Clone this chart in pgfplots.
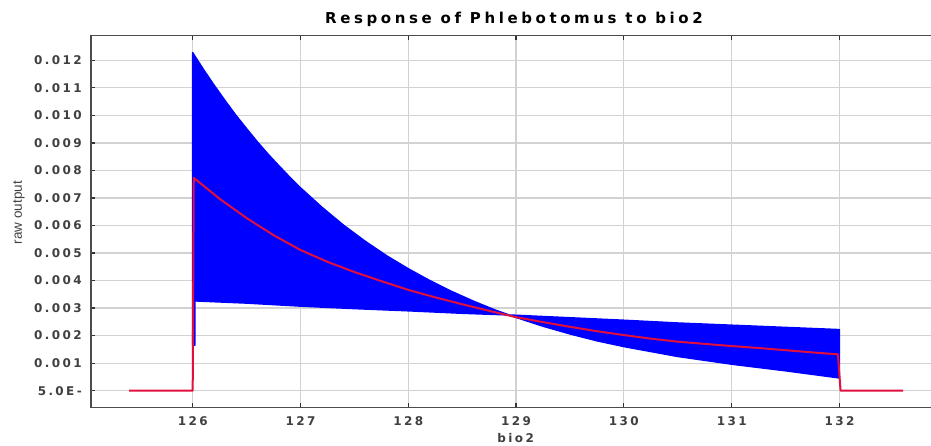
\documentclass[border=0pt]{standalone}
\usepackage{fontspec}
\setmainfont{DejaVu Sans}
\newfontfamily\tickfont[LetterSpace=20]{DejaVu Sans}
\newfontfamily\titlefont[LetterSpace=24]{DejaVu Sans}
\newfontfamily\labfont{Liberation Sans}
\usepackage{pgfplots}
\pgfplotsset{compat=1.18}

\definecolor{respred}{RGB}{225,15,60}
\definecolor{bandblue}{RGB}{0,0,255}
\definecolor{gridgray}{RGB}{210,210,210}

% mean response (red)
\pgfplotstableread{
x y
125.41 0
126.00 0
126.01 0.00773
126.25 0.00697
126.50 0.00627
126.75 0.00565
127.00 0.00511
127.25 0.00468
127.50 0.00431
127.75 0.00398
128.00 0.00366
128.25 0.00339
128.50 0.00314
128.75 0.00290
129.00 0.00267
129.25 0.00249
129.50 0.00232
129.75 0.00216
130.00 0.00202
130.25 0.00189
130.50 0.00178
130.75 0.00170
131.00 0.00162
131.25 0.00155
131.50 0.00147
131.75 0.00139
131.985 0.00132
132.01 0
132.59 0
}\meanresp

% blue band outline: one edge out, the other back
\pgfplotstableread{
x y
126.00 0.00165
126.00 0.01228
126.10 0.01167
126.20 0.01109
126.30 0.01054
126.40 0.01001
126.50 0.00952
126.60 0.00904
126.70 0.00859
126.80 0.00817
126.90 0.00776
127.00 0.00737
127.20 0.00666
127.40 0.00601
127.60 0.00543
127.80 0.00490
128.00 0.00443
128.20 0.00400
128.40 0.00361
128.60 0.00326
128.80 0.00294
129.00 0.00266
129.25 0.00234
129.50 0.00206
129.75 0.00181
130.00 0.00160
130.50 0.00124
131.00 0.00096
131.50 0.00072
132.00 0.00046
132.00 0.00222
131.50 0.00230
131.00 0.00238
130.50 0.00246
130.00 0.00256
129.50 0.00265
129.00 0.00274
128.50 0.00281
128.00 0.00290
127.50 0.00298
127.00 0.00307
126.50 0.00318
126.02 0.00326
126.02 0.00165
}\band

\begin{document}
\begin{tikzpicture}
\begin{axis}[
  name=ax,
  scale only axis,
  width=846pt, height=371.6pt,
  xmin=125.0566, xmax=132.9046,
  ymin=-0.000604, ymax=0.012895,
  scaled y ticks=false,
  xtick={126,127,128,129,130,131,132},
  xticklabels={126,127,128,129,130,131,132},
  ytick={0,0.001,0.002,0.003,0.004,0.005,0.006,0.007,0.008,0.009,0.010,0.011,0.012},
  yticklabels={5.0E-,0.001,0.002,0.003,0.004,0.005,0.006,0.007,0.008,0.009,0.010,0.011,0.012},
  ticklabel style={font=\fontsize{12}{14}\selectfont\tickfont\bfseries, text=black!75},
  yticklabel style={anchor=east, inner sep=0pt, xshift=-9pt},
  xticklabel style={anchor=north, inner sep=0pt, yshift=-9.4pt},
  grid=major,
  grid style={draw=gridgray, line width=1.2pt},
  axis line style={draw=black!70, line width=1.5pt},
  tick style={draw=black!80, line width=1.2pt},
  major tick length=4pt,
  title={Response of Phlebotomus to bio2},
  title style={at={(axis description cs:0.5,1)}, anchor=base, inner sep=0pt, yshift=5.7pt,
    font=\fontsize{15}{17}\selectfont\titlefont\bfseries},
  xlabel={bio2},
  xlabel style={at={(axis description cs:0.502,0)}, anchor=north, inner sep=0pt, yshift=-25.4pt,
    font=\fontsize{12}{14}\selectfont\tickfont\bfseries, text=black!75},
  ylabel={raw output},
  ylabel style={at={(axis description cs:-0.0851,0.524)}, anchor=center, inner sep=0pt,
    font=\fontsize{13.5}{15}\selectfont\labfont, text=black!75},
]
\addplot[draw=bandblue, fill=bandblue, line width=1.4pt, line join=round] table {\band} -- cycle;
\addplot[draw=respred, line width=2pt, line join=round] table {\meanresp};
\end{axis}
\pgfresetboundingbox
\useasboundingbox ([shift={(-91pt,-37.7pt)}]ax.south west) rectangle ([shift={(840pt,35.7pt)}]ax.north west);
\end{tikzpicture}
\end{document}
